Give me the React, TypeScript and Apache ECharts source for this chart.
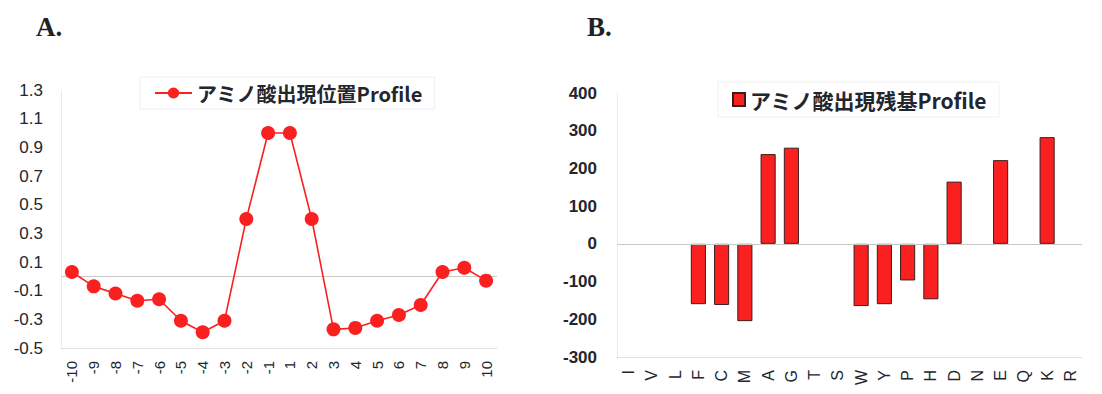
import React, { useEffect, useRef } from "react";
import * as echarts from "echarts";

const positionLabels = ["-10", "-9", "-8", "-7", "-6", "-5", "-4", "-3", "-2", "-1", "1", "2", "3", "4", "5", "6", "7", "8", "9", "10"];
const positionValues = [0.03, -0.07, -0.12, -0.17, -0.16, -0.31, -0.39, -0.31, 0.4, 1.0, 1.0, 0.4, -0.37, -0.36, -0.31, -0.27, -0.2, 0.03, 0.06, -0.03];

const residueLabels = ["I", "V", "L", "F", "C", "M", "A", "G", "T", "S", "W", "Y", "P", "H", "D", "N", "E", "Q", "K", "R"];
const residueValues = [null, null, null, -160, -162, -205, 238, 255, null, null, -165, -160, -97, -147, 165, null, 222, null, 283, null];

const positionTicks = { min: -0.5, max: 1.3, interval: 0.2 };
const residueTicks = { min: -300, max: 400, interval: 100 };

const positionName = "アミノ酸出現位置Profile";
const residueName = "アミノ酸出現残基Profile";

const RED = "#fb2020";
const TEXT = "#23262d";
const SANS = "'Liberation Sans', Arial, sans-serif";
const CJK = "'Noto Sans CJK JP', 'Noto Sans', sans-serif";

export default function App() {
  const ref = useRef<HTMLDivElement>(null);

  useEffect(() => {
    if (!ref.current) return;
    const chart = echarts.init(ref.current, undefined, { renderer: "svg" });

    const axisLabelY = { color: TEXT, fontFamily: SANS, fontSize: 17, margin: 18 };
    const axisLabelX = { color: TEXT, fontFamily: SANS, fontSize: 15, rotate: 90, margin: 13, interval: 0 };

    chart.setOption({
      animation: false,
      backgroundColor: "#ffffff",
      title: [
        { text: "A.", left: 31, top: 8, textStyle: { fontFamily: "'Liberation Serif', serif", fontWeight: "bold", fontSize: 27, color: "#222" } },
        { text: "B.", left: 582, top: 8, textStyle: { fontFamily: "'Liberation Serif', serif", fontWeight: "bold", fontSize: 27, color: "#222" } },
      ],
      legend: [
        {
          data: [positionName],
          left: 140,
          top: 77,
          padding: [6, 12, 6, 14],
          borderColor: "#f0f0f0",
          borderWidth: 1,
          itemWidth: 37,
          itemHeight: 14,
          textStyle: { fontFamily: CJK, fontWeight: "bold", fontSize: 20, color: TEXT },
        },
        {
          data: [residueName],
          left: 718,
          top: 82,
          padding: [7, 12, 7, 14],
          borderColor: "#f0f0f0",
          borderWidth: 1,
          icon: "rect",
          itemWidth: 12,
          itemHeight: 13,
          textStyle: { fontFamily: CJK, fontWeight: "bold", fontSize: 21, color: TEXT },
        },
      ],
      grid: [
        { left: 61, top: 90, width: 436, height: 258 },
        { left: 617, top: 93, width: 465, height: 264 },
      ],
      xAxis: [
        {
          type: "category",
          gridIndex: 0,
          data: positionLabels,
          boundaryGap: true,
          axisLine: { onZero: false, lineStyle: { color: "#e2e2e2" } },
          axisTick: { show: false },
          axisLabel: axisLabelX,
        },
        {
          type: "category",
          gridIndex: 1,
          data: residueLabels,
          boundaryGap: true,
          axisLine: { onZero: false, lineStyle: { color: "#e2e2e2" } },
          axisTick: { show: false },
          axisLabel: { ...axisLabelX, fontSize: 16 },
        },
      ],
      yAxis: [
        {
          type: "value",
          gridIndex: 0,
          min: positionTicks.min,
          max: positionTicks.max,
          interval: positionTicks.interval,
          axisLine: { show: true, lineStyle: { color: "#e6e6e6", type: "dotted" } },
          axisTick: { show: false },
          splitLine: { show: false },
          axisLabel: { ...axisLabelY, formatter: (v: number) => Number(v).toFixed(1) },
        },
        {
          type: "value",
          gridIndex: 1,
          min: residueTicks.min,
          max: residueTicks.max,
          interval: residueTicks.interval,
          axisLine: { show: true, lineStyle: { color: "#e6e6e6", type: "dotted" } },
          axisTick: { show: false },
          splitLine: { show: false },
          axisLabel: { ...axisLabelY, fontWeight: "bold", margin: 20 },
        },
      ],
      series: [
        {
          name: positionName,
          type: "line",
          xAxisIndex: 0,
          yAxisIndex: 0,
          data: positionValues,
          symbol: "circle",
          symbolSize: 14,
          color: RED,
          lineStyle: { color: RED, width: 1.6 },
          itemStyle: { color: RED },
          markLine: {
            silent: true,
            symbol: "none",
            label: { show: false },
            lineStyle: { color: "#c8c8c8", type: "solid", width: 1 },
            data: [{ yAxis: 0 }],
            z: 1,
          },
        },
        {
          name: residueName,
          type: "bar",
          xAxisIndex: 1,
          yAxisIndex: 1,
          data: residueValues,
          barWidth: "65%",
          color: RED,
          itemStyle: { color: RED, borderColor: "#3b1c1c", borderWidth: 1 },
          markLine: {
            silent: true,
            symbol: "none",
            label: { show: false },
            lineStyle: { color: "#c8c8c8", type: "solid", width: 1 },
            data: [{ yAxis: 0 }],
          },
        },
      ],
    });

    return () => chart.dispose();
  }, []);

  return (
    <div
      ref={ref}
      style={{ position: "fixed", left: 0, top: 0, width: 1102, height: 394, background: "#fff" }}
    />
  );
}
